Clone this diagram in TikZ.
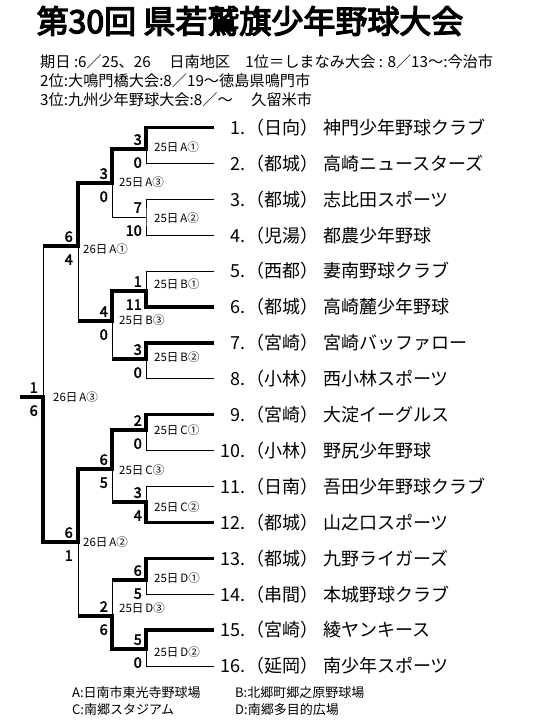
\documentclass[tikz,border=0pt]{standalone}
\usepackage{fontspec}
\setmainfont{Noto Sans CJK JP}
\newfontfamily\titlefont{Noto Sans CJK JP}[FakeBold=4]
\newfontfamily\scorefont{Noto Sans CJK JP}[FakeBold=2.5]
\usetikzlibrary{calc}
\tikzset{
  thinl/.style={line width=1pt},
  thickl/.style={line width=3.3pt},
  teamtxt/.style={inner sep=0pt, text height=13.7pt, text depth=0pt, font=\fontsize{18}{18}\selectfont},
  numtxt/.style={teamtxt, anchor=east},
  preftxt/.style={teamtxt, anchor=west},
  nametxt/.style={teamtxt, anchor=west},
  score/.style={inner sep=0pt, anchor=east, text height=10.6pt, text depth=0pt, font={\scorefont\fontsize{14.5}{14.5}\selectfont}},
  loc/.style={inner sep=0pt, anchor=west, text height=8.7pt, text depth=0pt, font=\fontsize{11.5}{11.5}\selectfont},
  hdr/.style={inner sep=0pt, anchor=west, text height=11.6pt, text depth=0pt, font=\fontsize{15.2}{15.2}\selectfont},
  foot/.style={inner sep=0pt, anchor=west, text height=9.9pt, text depth=0pt, font=\fontsize{13}{13}\selectfont},
  titletxt/.style={inner sep=0pt, text height=24.3pt, text depth=0pt, font={\titlefont\fontsize{32}{32}\selectfont}},
}
\begin{document}
\begin{tikzpicture}[x=1pt,y=-1pt]
\useasboundingbox (0,0) rectangle (540,720);

% title and header
\node[titletxt] (title) at (250,21) {第30回 県若鷲旗少年野球大会};
\node[hdr] (h1) at (40,62) {期日 :6／25、26　 日南地区　1位＝しまなみ大会 : 8／13～:今治市};
\node[hdr] (h2) at (40,81) {2位:大鳴門橋大会:8／19～徳島県鳴門市};
\node[hdr] (h3) at (40,100) {3位:九州少年野球大会:8／～　 久留米市};

% teams
\foreach \i/\pr/\nm in {
  1/日向/神門少年野球クラブ,
  2/都城/高崎ニュースターズ,
  3/都城/志比田スポーツ,
  4/児湯/都農少年野球,
  5/西都/妻南野球クラブ,
  6/都城/高崎麓少年野球,
  7/宮崎/宮崎バッファロー,
  8/小林/西小林スポーツ,
  9/宮崎/大淀イーグルス,
  10/小林/野尻少年野球,
  11/日南/吾田少年野球クラブ,
  12/都城/山之口スポーツ,
  13/都城/九野ライガーズ,
  14/串間/本城野球クラブ,
  15/宮崎/綾ヤンキース,
  16/延岡/南少年スポーツ}{
  \pgfmathsetmacro\yy{127.5+35.9*(\i-1)}
  \coordinate (e\i) at (214,\yy);
  \node[numtxt] (n\i) at (246,\yy) {\i.};
  \node[preftxt] (p\i) at (246,\yy) {（\pr）};
  \node[nametxt] (t\i) at (323,\yy) {\nm};
}

% junctions
\coordinate (mA1) at (146,149);
\coordinate (mA2) at (146,217);
\coordinate (mB1) at (146,291);
\coordinate (mB2) at (146,359);
\coordinate (mC1) at (146,430);
\coordinate (mC2) at (146,502);
\coordinate (mD1) at (146,580);
\coordinate (mD2) at (146,649);
\coordinate (mA3) at (112,183);
\coordinate (mB3) at (112,321);
\coordinate (mC3) at (112,469);
\coordinate (mD3) at (112,616);
\coordinate (mX1) at (78,246);
\coordinate (mX2) at (78,542);
\coordinate (mF) at (43,397);
\coordinate (cL) at (20,397);

% thin lines
\draw[thinl] (e2) -| (mA1);
\draw[thinl] (e3) -| (mA2) |- (e4);
\draw[thinl] (mA2) -| (mA3);
\draw[thinl] (e5) -| (mB1);
\draw[thinl] (e8) -| (mB2);
\draw[thinl] (mB3) -- (mB3 |- mB2);
\draw[thinl] (mX1) -- (mX1 |- mB3);
\draw[thinl] (e10) -| (mC1);
\draw[thinl] (e11) -| (mC2);
\draw[thinl] (mC3) -- (mC3 |- mC2);
\draw[thinl] (e14) -| (mD1);
\draw[thinl] (mD1 -| mD3) -- (mD3);
\draw[thinl] (e16) -| (mD2);
\draw[thinl] (mX2) -- (mX2 |- mD3);
\draw[thinl] (mF) -- (mF |- mX1);

% thick lines (winners)
\draw[thickl] (e1) -| (mA1) -| (mA3) -| (mX1) -- (mX1 -| mF);
\draw[thickl] (e6) -| (mB1) -| (mB3) -- (mB3 -| mX1);
\draw[thickl] (e7) -| (mB2) -- (mB2 -| mB3);
\draw[thickl] (e9) -| (mC1) -| (mC3) -| (mX2) -| (mF) -- (cL);
\draw[thickl] (e12) -| (mC2) -- (mC2 -| mC3);
\draw[thickl] (e13) -| (mD1) -- (mD1 -| mD3);
\draw[thickl] (e15) -| (mD2) -| (mD3) -- (mD3 -| mX2);

% scores round 1
\node[score] (sA1a) at (142,139.5) {3};
\node[score] (sA1b) at (142,162.5) {0};
\node[score] (sA2a) at (142,207.5) {7};
\node[score] (sA2b) at (142,230.5) {10};
\node[score] (sB1a) at (142,281.5) {1};
\node[score] (sB1b) at (142,304.5) {11};
\node[score] (sB2a) at (142,349.5) {3};
\node[score] (sB2b) at (142,372.5) {0};
\node[score] (sC1a) at (142,420.5) {2};
\node[score] (sC1b) at (142,443.5) {0};
\node[score] (sC2a) at (142,492.5) {3};
\node[score] (sC2b) at (142,515.5) {4};
\node[score] (sD1a) at (142,570.5) {6};
\node[score] (sD1b) at (142,593.5) {5};
\node[score] (sD2a) at (142,639.5) {5};
\node[score] (sD2b) at (142,662.5) {0};
% round 2
\node[score] (sA3a) at (108,173.5) {3};
\node[score] (sA3b) at (108,196.5) {0};
\node[score] (sB3a) at (108,311.5) {4};
\node[score] (sB3b) at (108,334.5) {0};
\node[score] (sC3a) at (108,459.5) {6};
\node[score] (sC3b) at (108,482.5) {5};
\node[score] (sD3a) at (108,606.5) {2};
\node[score] (sD3b) at (108,629.5) {6};
% round 3
\node[score] (sX1a) at (73,236.5) {6};
\node[score] (sX1b) at (73,259.5) {4};
\node[score] (sX2a) at (73,532.5) {6};
\node[score] (sX2b) at (73,555.5) {1};
% final
\node[score] (sFa) at (38,387.5) {1};
\node[score] (sFb) at (38,410.5) {6};

% match labels
\node[loc] (lA1) at (154,147) {25日\hspace{2pt}A①};
\node[loc] (lA2) at (154,218) {25日\hspace{2pt}A②};
\node[loc] (lB1) at (154,284) {25日\hspace{2pt}B①};
\node[loc] (lB2) at (154,357) {25日\hspace{2pt}B②};
\node[loc] (lC1) at (154,430) {25日\hspace{2pt}C①};
\node[loc] (lC2) at (154,507) {25日\hspace{2pt}C②};
\node[loc] (lD1) at (154,578) {25日\hspace{2pt}D①};
\node[loc] (lD2) at (154,652) {25日\hspace{2pt}D②};
\node[loc] (lA3) at (119,182) {25日\hspace{2pt}A③};
\node[loc] (lB3) at (119,320) {25日\hspace{2pt}B③};
\node[loc] (lC3) at (119,470) {25日\hspace{2pt}C③};
\node[loc] (lD3) at (119,608) {25日\hspace{2pt}D③};
\node[loc] (lX1) at (83,249) {26日\hspace{2pt}A①};
\node[loc] (lX2) at (83,542) {26日\hspace{2pt}A②};
\node[loc] (lF) at (53,397) {26日\hspace{2pt}A③};

% footer
\node[foot] (fA) at (72,693) {A:日南市東光寺野球場};
\node[foot] (fB) at (235,693) {B:北郷町郷之原野球場};
\node[foot] (fC) at (72,710) {C:南郷スタジアム};
\node[foot] (fD) at (235,710) {D:南郷多目的広場};
\end{tikzpicture}
\end{document}
